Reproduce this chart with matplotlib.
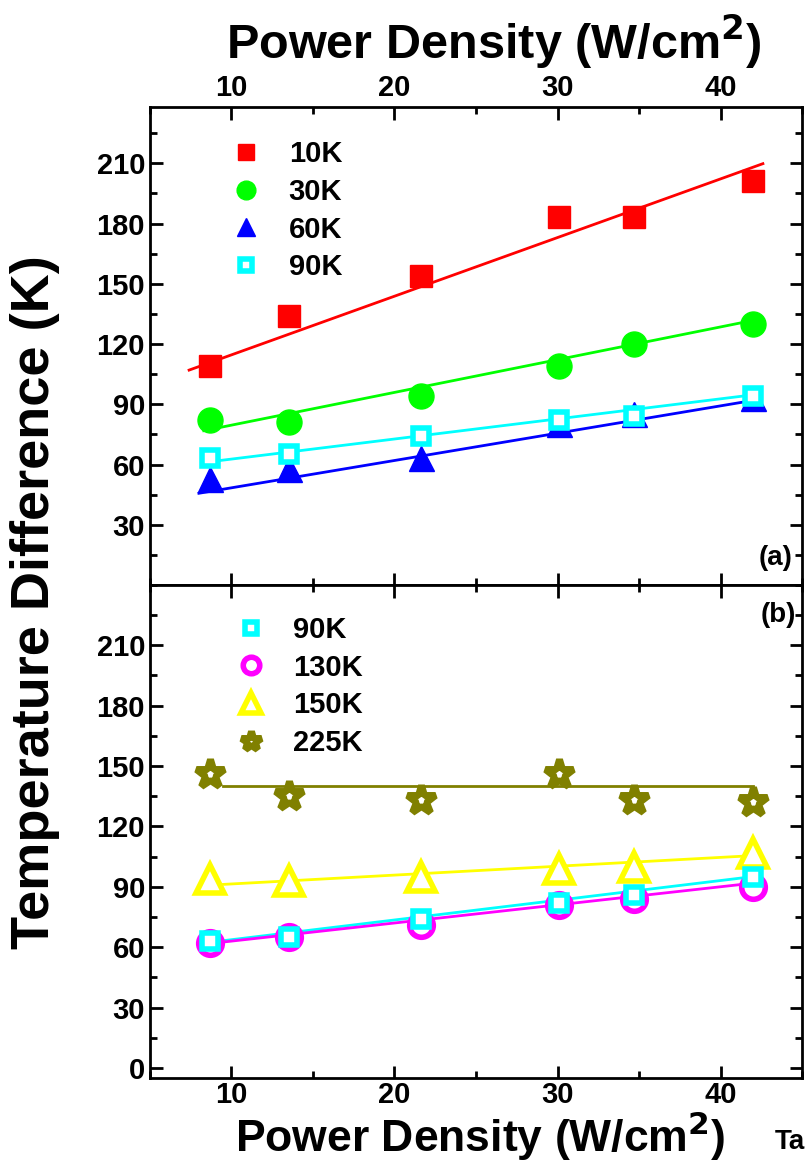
import matplotlib
matplotlib.use("Agg")
import matplotlib.pyplot as plt
import numpy as np
from matplotlib.ticker import MultipleLocator

plt.rcParams["font.family"] = ["Liberation Sans", "DejaVu Sans"]
plt.rcParams["font.weight"] = "bold"

# power density (W/cm^2), shared by every series
power = [8.7, 13.5, 21.6, 30.1, 34.7, 42.0]

# panel (a)
t10k = [109, 134, 154, 183, 183, 201]
t30k = [82, 81, 94, 109, 120, 130]
t60k = [53, 58, 63, 80, 85, 93]
t90k_a = [63, 65, 74, 82, 84, 94]

# panel (b)
t90k_b = [63, 65, 74, 82, 86, 95]
t130k = [62, 65, 71, 81, 84, 90]
t150k = [94, 93, 95, 99, 100, 107]
t225k = [146, 135, 133, 146, 133, 132]

# linear fits: (slope, intercept, x_start, x_end)
fit_10k = (2.92, 85.4, 7.4, 42.6)
fit_30k = (1.63, 63.3, 8.3, 42.0)
fit_60k = (1.36, 34.8, 8.0, 42.0)
fit_90k_a = (1.00, 52.7, 8.3, 42.0)
fit_90k_b = (0.98, 53.9, 8.3, 42.0)
fit_130k = (0.90, 54.0, 8.3, 42.0)
fit_150k = (0.44, 87.0, 8.3, 42.0)
fit_225k = (0.0, 140.0, 9.5, 42.0)

RED, GREEN, BLUE, CYAN = "#FF0000", "#00FF00", "#0000FF", "#00FFFF"
MAGENTA, YELLOW, OLIVE = "#FF00FF", "#FFFF00", "#808000"


def draw_fit(ax, fit, color):
    k, b, x0, x1 = fit
    xs = np.array([x0, x1])
    ax.plot(xs, k * xs + b, color=color, lw=2, zorder=2)


def style_axes(ax):
    ax.set_xlim(5, 45)
    ax.xaxis.set_major_locator(MultipleLocator(10))
    ax.xaxis.set_minor_locator(MultipleLocator(5))
    ax.yaxis.set_major_locator(MultipleLocator(30))
    ax.yaxis.set_minor_locator(MultipleLocator(15))
    ax.tick_params(which="both", direction="in", top=True, right=True,
                   width=2, labelsize=21)
    ax.tick_params(which="major", length=9)
    ax.tick_params(which="minor", length=5)
    for s in ax.spines.values():
        s.set_linewidth(2)


def bold_ticks(ax):
    for lab in ax.get_xticklabels() + ax.get_yticklabels():
        lab.set_fontweight("bold")


fig = plt.figure(figsize=(8.05, 11.67), dpi=100)
ax_a = fig.add_axes([0.1863, 0.4987, 0.81, 0.4096])
ax_b = fig.add_axes([0.1863, 0.0763, 0.81, 0.4225])

leg_kw = dict(loc="upper left", frameon=False, handlelength=2.0,
              handletextpad=0.45, labelspacing=0.33,
              prop={"weight": "bold", "size": 21})

# ---- panel (a)
ms = 16
ax_a.plot(power, t10k, "s", color=RED, ms=ms, label="10K", zorder=3)
ax_a.plot(power, t30k, "o", color=GREEN, ms=ms + 2, label="30K", zorder=3)
ax_a.plot(power, t60k, "^", color=BLUE, ms=ms + 2, label="60K", zorder=3)
ax_a.plot(power, t90k_a, "s", mfc="white", mec=CYAN, mew=4, ms=12,
          label="90K", zorder=4)
draw_fit(ax_a, fit_10k, RED)
draw_fit(ax_a, fit_30k, GREEN)
draw_fit(ax_a, fit_60k, BLUE)
draw_fit(ax_a, fit_90k_a, CYAN)
ax_a.set_ylim(0, 238)
style_axes(ax_a)
ax_a.set_yticks(np.arange(30, 211, 30))
ax_a.tick_params(axis="x", labelbottom=False, labeltop=True)
bold_ticks(ax_a)
ax_a.legend(bbox_to_anchor=(0.063, 0.985), markerscale=0.75, **leg_kw)
ax_a.text(0.985, 0.03, "(a)", transform=ax_a.transAxes, ha="right",
          va="bottom", fontsize=20, fontweight="bold")

# ---- panel (b)
ax_b.plot(power, t90k_b, "s", mfc="white", mec=CYAN, mew=4, ms=12,
          label="90K", zorder=4)
ax_b.plot(power, t130k, "o", mfc="white", mec=MAGENTA, mew=4, ms=17,
          label="130K", zorder=3)
ax_b.plot(power, t150k, "^", mfc="white", mec=YELLOW, mew=4, ms=20,
          label="150K", zorder=3)
ax_b.plot(power, t225k, "*", mfc="white", mec=OLIVE, mew=5, ms=21,
          label="225K", zorder=3)
draw_fit(ax_b, fit_90k_b, CYAN)
draw_fit(ax_b, fit_130k, MAGENTA)
draw_fit(ax_b, fit_150k, YELLOW)
draw_fit(ax_b, fit_225k, OLIVE)
ax_b.set_ylim(-5, 240)
style_axes(ax_b)
ax_b.set_yticks(np.arange(0, 211, 30))
ax_b.tick_params(axis="x", pad=2)
bold_ticks(ax_b)
ax_b.legend(bbox_to_anchor=(0.07, 0.99), markerscale=0.7, **leg_kw)
ax_b.text(0.99, 0.965, "(b)", transform=ax_b.transAxes, ha="right",
          va="top", fontsize=20, fontweight="bold")

# ---- axis labels
fig.text(0.043, 0.484, "Temperature Difference (K)", rotation=90, ha="center",
         va="center", fontsize=39, fontweight="bold")
fig.text(0.613, 0.964, "Power Density (W/cm$^\\mathbf{2}$)", ha="center",
         va="center", fontsize=35, fontweight="bold")
fig.text(0.597, 0.013, "Power Density (W/cm$^\\mathbf{2}$)", ha="center",
         va="baseline", fontsize=32, fontweight="bold")
fig.text(0.962, 0.021, "Ta", ha="left", va="center", fontsize=20,
         fontweight="bold")

fig.savefig("out.png", dpi=100)
